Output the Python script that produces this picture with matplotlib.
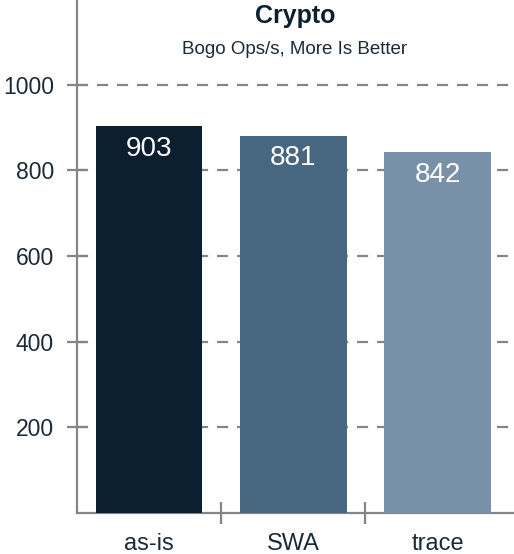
import matplotlib
matplotlib.use("Agg")
import matplotlib.pyplot as plt
from matplotlib.ticker import FixedLocator, NullFormatter

plt.rcParams['font.family'] = ['Liberation Sans', 'DejaVu Sans']

categories = ["as-is", "SWA", "trace"]
values = [903, 881, 842]
bar_colors = ["#0c1f30", "#47667f", "#7891a8"]
y_ticks = [200, 400, 600, 800, 1000]

title = "Crypto"
subtitle = "Bogo Ops/s, More Is Better"

text_color = "#1b2a38"
axis_color = "#858585"

fig = plt.figure(figsize=(5.14, 5.54), dpi=100)
ax = fig.add_axes([77 / 514, 1 - 513 / 554, 1 - 77 / 514, 513 / 554])

x = list(range(len(categories)))
bars = ax.bar(x, values, width=0.74, color=bar_colors, zorder=3)

ax.set_xlim(-0.5, 2.53)
ax.set_ylim(0, 1198)

ax.set_yticks(y_ticks)
ax.set_yticklabels([str(v) for v in y_ticks])
ax.yaxis.grid(True, linestyle=(0, (5, 4)), color=axis_color, linewidth=1.6, zorder=0)
ax.set_axisbelow(True)

ax.set_xticks(x)
ax.set_xticklabels(categories)
ax.xaxis.set_minor_locator(FixedLocator([0.5, 1.5]))
ax.xaxis.set_minor_formatter(NullFormatter())

for side in ("top", "right"):
    ax.spines[side].set_visible(False)
for side in ("left", "bottom"):
    ax.spines[side].set_color(axis_color)
    ax.spines[side].set_linewidth(1.6)

ax.tick_params(axis="y", which="major", direction="inout", length=15,
               width=1.6, color=axis_color, labelsize=16.5, labelcolor=text_color, pad=9)
ax.tick_params(axis="x", which="major", length=0, labelsize=17,
               labelcolor=text_color, pad=14.5)
ax.tick_params(axis="x", which="minor", direction="inout", length=16,
               width=1.6, color=axis_color)

for rect, v in zip(bars, values):
    ax.annotate(str(v), xy=(rect.get_x() + rect.get_width() / 2, v),
                xytext=(0, -16), textcoords="offset points",
                ha="center", va="center", color="white", fontsize=20, zorder=4)

fig.text(295 / 514, 1 - 16 / 554, title, ha="center", va="center",
         fontsize=18, fontweight="bold", color="#0c1f30")
fig.text(295 / 514, 1 - 50 / 554, subtitle, ha="center", va="center",
         fontsize=13.5, color=text_color)

fig.savefig("out.png", dpi=100)
